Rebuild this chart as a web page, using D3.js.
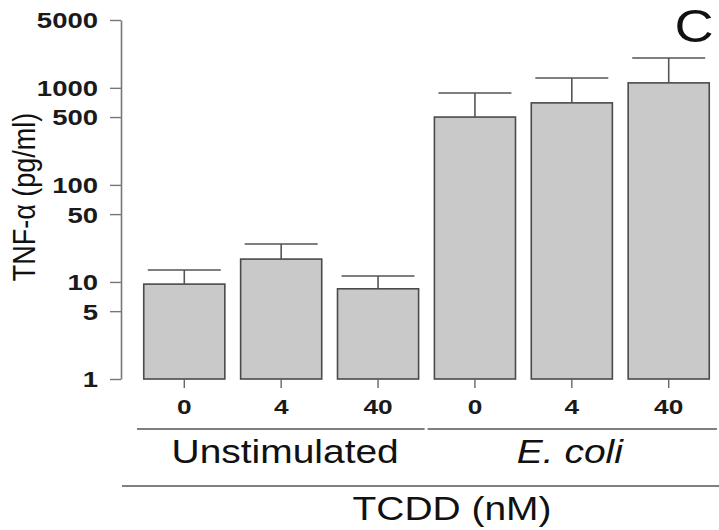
<!DOCTYPE html>
<html>
<head>
<meta charset="utf-8">
<script src="https://cdn.jsdelivr.net/npm/d3@7"></script>
<style>
  html, body { margin: 0; padding: 0; background: #fff; }
  svg { display: block; }
  text { font-family: "Liberation Sans", Arial, Helvetica, sans-serif; fill: #111; }
</style>
</head>
<body>
<svg id="chart" width="719" height="530"></svg>
<script>
// TNF-α release, log scale, by TCDD dose within each stimulation group
const doses = ["0", "4", "40", "0", "4", "40"];
const groups = ["Unstimulated", "Unstimulated", "Unstimulated", "E. coli", "E. coli", "E. coli"];
const meanValues = [9.5, 17.2, 8.5, 500, 700, 1125];
const upperValues = [13.3, 24.6, 11.5, 885, 1265, 2030];
const yTicks = [1, 5, 10, 50, 100, 500, 1000, 5000];
const groupNames = ["Unstimulated", "E. coli"];

const SX = 1.18;      // horizontal stretch of the lettering
const SX_TICK = 1.25; // slightly wider for the numerals

const svg = d3.select("#chart");
const ids = doses.map((d, i) => i);

const x = d3.scaleBand()
  .domain(ids)
  .range([136, 717])
  .paddingInner(0.163)
  .paddingOuter(0.08);

const y = d3.scaleLog()
  .domain([1, 5000])
  .range([379, 20]);

// y axis
const yAxis = svg.append("g")
  .attr("transform", "translate(121,0)")
  .call(d3.axisLeft(y)
    .tickValues(yTicks)
    .tickFormat(d3.format("d"))
    .tickSize(11)
    .tickSizeOuter(0));
yAxis.attr("font-size", null);
yAxis.select(".domain").attr("stroke", "#777").attr("stroke-width", 1.6);
yAxis.selectAll(".tick line").attr("stroke", "#777").attr("stroke-width", 1.4);
yAxis.selectAll(".tick text")
  .attr("x", -23 / SX_TICK)
  .attr("dy", "0.36em")
  .attr("transform", `scale(${SX_TICK},1)`)
  .style("font-size", "22px")
  .style("font-weight", "bold")
  .style("fill", "#1a1a1a");

// bars
svg.append("g").selectAll("rect")
  .data(ids)
  .join("rect")
  .attr("x", i => x(i))
  .attr("y", i => y(meanValues[i]))
  .attr("width", x.bandwidth())
  .attr("height", i => y(1) - y(meanValues[i]))
  .attr("fill", "#c9c9c9")
  .attr("stroke", "#4a4a4a")
  .attr("stroke-width", 1.6);

// error bars (upper only)
const capW = x.bandwidth() * 0.9;
const err = svg.append("g").attr("stroke", "#555").attr("stroke-width", 1.6);
err.selectAll("line.stem")
  .data(ids)
  .join("line")
  .attr("class", "stem")
  .attr("x1", i => x(i) + x.bandwidth() / 2)
  .attr("x2", i => x(i) + x.bandwidth() / 2)
  .attr("y1", i => y(meanValues[i]))
  .attr("y2", i => y(upperValues[i]));
err.selectAll("line.cap")
  .data(ids)
  .join("line")
  .attr("class", "cap")
  .attr("x1", i => x(i) + x.bandwidth() / 2 - capW / 2)
  .attr("x2", i => x(i) + x.bandwidth() / 2 + capW / 2)
  .attr("y1", i => y(upperValues[i]))
  .attr("y2", i => y(upperValues[i]));

// x axis: dose ticks under each bar
const xAxis = svg.append("g")
  .attr("transform", `translate(0,${y(1)})`)
  .call(d3.axisBottom(x)
    .tickFormat(i => doses[i])
    .tickSize(9)
    .tickPadding(11));
xAxis.attr("font-size", null);
xAxis.select(".domain").remove();
xAxis.selectAll(".tick line").attr("stroke", "#666").attr("stroke-width", 1.4);
xAxis.selectAll(".tick text")
  .attr("transform", `scale(${SX_TICK},1)`)
  .style("font-size", "21px")
  .style("font-weight", "bold")
  .style("fill", "#1a1a1a");

// group brackets and names
function label(txt, cx, by, size, opts = {}) {
  return svg.append("text")
    .attr("transform", `translate(${cx},${by}) scale(${SX},1)`)
    .attr("text-anchor", "middle")
    .style("font-size", size + "px")
    .style("font-style", opts.italic ? "italic" : "normal")
    .text(txt);
}

const groupSpans = groupNames.map(g => {
  const members = ids.filter(i => groups[i] === g);
  return { name: g, first: members[0], last: members[members.length - 1] };
});
const lineG = svg.append("g").attr("stroke", "#555").attr("stroke-width", 1.5);
groupSpans.forEach((s, k) => {
  const x0 = k === 0 ? 137 : x(s.first) - x.step() * 0.07;
  const x1 = k === 0 ? x(s.last) + x.bandwidth() + 6 : 717;
  lineG.append("line").attr("x1", x0).attr("x2", x1).attr("y1", 429).attr("y2", 429);
  const cx = (x(s.first) + x(s.last) + x.bandwidth()) / 2;
  label(s.name, cx + (k === 0 ? 4 : -2), 463, 33, { italic: s.name === "E. coli" });
});

// overall axis title bracket
svg.append("line")
  .attr("x1", 122).attr("x2", 719)
  .attr("y1", 486).attr("y2", 486)
  .attr("stroke", "#555").attr("stroke-width", 1.5);
label("TCDD (nM)", 452, 520, 33);

// y axis title
svg.append("text")
  .attr("transform", "translate(24,197) rotate(-90) scale(1,1.15)")
  .attr("text-anchor", "middle")
  .attr("dy", "0.35em")
  .style("font-size", "27px")
  .text("TNF-α (pg/ml)");

// panel letter
label("C", 694, 42, 46);
</script>
</body>
</html>
